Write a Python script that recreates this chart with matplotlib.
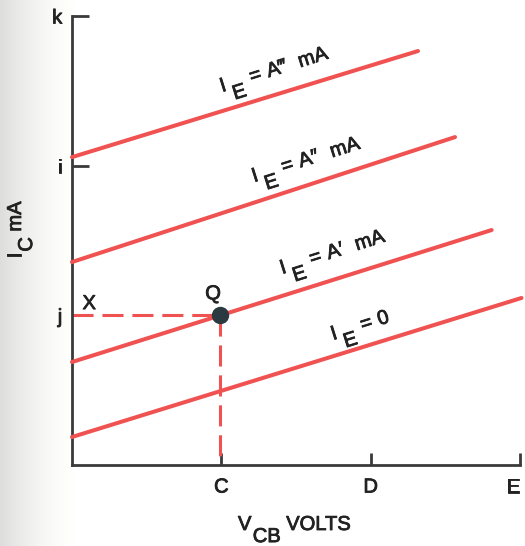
import numpy as np
import matplotlib
matplotlib.use("Agg")
import matplotlib.pyplot as plt
import matplotlib.patheffects as pe
import matplotlib.transforms as mtransforms
from matplotlib.font_manager import FontProperties

plt.rcParams['font.family'] = ['Liberation Sans', 'DejaVu Sans']

# Characteristic curves: (V_CB start, I_C start) -> (V_CB end, I_C end)
curve_names = ["0", "A'", "A''", "A'''"]
curve_v_start = [0.0, 0.0, 0.0, 0.0]
curve_i_start = [0.187, 0.688, 1.356, 2.057]
curve_v_end = [3.01, 2.81, 2.565, 2.317]
curve_i_end = [1.116, 1.570, 2.191, 2.766]

# Curve labels: value of I_E for each curve, and where the label starts
label_values = [["0"], ["A′", "mA"], ["A″", "mA"], ["A‴", "mA"]]
label_v = [1.748, 1.407, 1.219, 1.005]
label_i = [0.835, 1.276, 1.890, 2.492]

# Axis ticks
x_ticks = [1, 2, 3]
x_tick_labels = ["C", "D", "E"]
y_ticks = [1, 2, 3]
y_tick_labels = ["j", "i", "k"]

# Operating point Q
q_v, q_i = 0.99, 1.0

red = "#f05252"
dark = "#3a3a3a"
ink = "#222222"
FS = 14.5
bold_fx = [pe.withStroke(linewidth=0.6, foreground=ink)]

fig = plt.figure(figsize=(5.25, 5.46), dpi=100)

# soft grey shading along the left edge of the page
bg = fig.add_axes([0, 0, 1, 1], zorder=-10)
xs = np.arange(525)
shade = 1.0 - 0.13 * np.clip(1 - xs / 75.0, 0, 1) ** 1.6
rgb = np.stack([shade, shade, shade * 0.99 + 0.01 * (xs > 75)], axis=-1)[None, :, :]
rgb = np.repeat(rgb, 2, axis=0)
bg.imshow(np.clip(rgb, 0, 1), aspect='auto', extent=[0, 1, 0, 1])
bg.axis('off')

ax = fig.add_axes([72 / 525, 81 / 546, 448 / 525, 449 / 546])
ax.patch.set_alpha(0)
ax.set_xlim(0, 3.0)
ax.set_ylim(0, 3.0)

for s in ("top", "right"):
    ax.spines[s].set_visible(False)
for s in ("left", "bottom"):
    ax.spines[s].set_color(dark)
    ax.spines[s].set_linewidth(2.0)
    ax.spines[s].set_capstyle('projecting')

ax.set_xticks(x_ticks)
ax.set_xticklabels(x_tick_labels, fontsize=FS, color=ink, path_effects=bold_fx)
ax.set_yticks(y_ticks)
ax.set_yticklabels(y_tick_labels, fontsize=FS, color=ink, path_effects=bold_fx)
ax.tick_params(axis='x', direction='in', length=9, width=2, color=dark, pad=9)
ax.tick_params(axis='y', direction='in', length=12, width=2, color=dark, pad=7)
for t in ax.xaxis.get_major_ticks() + ax.yaxis.get_major_ticks():
    t.tick1line.set_clip_on(False)
# keep the last tick label inside the page edge
last = ax.get_xticklabels()[-1]
last.set_transform(last.get_transform() +
                   mtransforms.ScaledTranslation(-5 / 72, 0, fig.dpi_scale_trans))

# characteristic curves
for vs, is_, ve, ie in zip(curve_v_start, curve_i_start, curve_v_end, curve_i_end):
    ax.plot([vs, ve], [is_, ie], color=red, lw=2.9, solid_capstyle='round',
            clip_on=False, zorder=3)

renderer = fig.canvas.get_renderer()
prop = FontProperties(family=['Liberation Sans', 'DejaVu Sans'], size=FS)


def width_pt(s):
    w, _, _ = renderer.get_text_width_height_descent(s, prop, ismath=False)
    return w * 72.0 / fig.dpi


def subscripted(x, y, parts, rot, xycoords='data'):
    """Write text pieces along a rotated baseline; each piece is (text, drop, gap)
    where drop lowers it (in em) and gap is the space (in points) before it."""
    th = np.deg2rad(rot)
    along = np.array([np.cos(th), np.sin(th)])
    down = np.array([np.sin(th), -np.cos(th)])
    s = 0.0
    for txt, drop, gap in parts:
        s += gap
        off = along * s + down * drop * FS
        ax.annotate(txt, xy=(x, y), xycoords=xycoords, xytext=tuple(off),
                    textcoords='offset points', fontsize=FS, color=ink,
                    rotation=rot, rotation_mode='anchor', ha='left',
                    va='baseline', path_effects=bold_fx, annotation_clip=False)
        s += width_pt(txt)


# curve labels, rotated along the lines
for vals, lv, li in zip(label_values, label_v, label_i):
    parts = [("I", 0, 0), ("E", 0.55, 3.0), ("=", 0, 5.5)]
    parts.append((vals[0], 0, 4.5))
    if len(vals) > 1:
        parts.append((vals[1], 0, 9.0))
    subscripted(lv, li, parts, 17.5)

# operating point with projections onto the axes
dash = (6.9, 2.9)
ax.plot([0, q_v], [q_i, q_i], color=red, lw=2.2, dashes=dash, zorder=2)
ax.plot([q_v, q_v], [q_i, 0], color=red, lw=2.2, dashes=dash, zorder=2)
ax.plot([q_v], [q_i], 'o', ms=11.5, color="#2b3a40", zorder=5)
ax.text(q_v - 0.045, q_i + 0.08, "Q", fontsize=FS, color=ink,
        ha='center', va='bottom', path_effects=bold_fx)
ax.text(0.115, q_i + 0.015, "X", fontsize=FS, color=ink,
        ha='center', va='bottom', path_effects=bold_fx)

# axis titles with full-size lowered subscripts
subscripted(21, 546 - 258, [("I", 0, 0), ("C", 0.55, 0.5), ("mA", 0, 4.0)], 90,
            xycoords='figure pixels')
subscripted(238, 546 - 530, [("V", 0, 0), ("CB", 0.6, 1.0), ("VOLTS", 0, 4.0)], 0,
            xycoords='figure pixels')

fig.savefig("out.png", dpi=100)
